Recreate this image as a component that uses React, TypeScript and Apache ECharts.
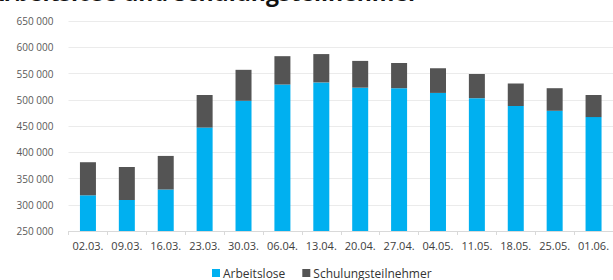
import React, { useEffect, useRef } from "react";
import * as echarts from "echarts";

const categories = ["02.03.", "09.03.", "16.03.", "23.03.", "30.03.", "06.04.", "13.04.", "20.04.", "27.04.", "04.05.", "11.05.", "18.05.", "25.05.", "01.06."];
const arbeitslose = [318000, 309000, 329000, 447000, 498000, 529000, 533000, 523000, 522000, 513000, 503000, 488000, 479000, 467000];
const schulung = [63000, 63000, 64000, 62000, 59000, 54000, 54000, 51000, 48000, 47000, 46000, 43000, 43000, 42000];
const titleText = "Arbeitslose und Schulungsteilnehmer";

const fmt = (v: number) => {
  const s = String(Math.round(v));
  return s.replace(/\B(?=(\d{3})+(?!\d))/g, " ");
};

export default function App() {
  const ref = useRef<HTMLDivElement>(null);
  useEffect(() => {
    if (!ref.current) return;
    const chart = echarts.init(ref.current, null, { renderer: "svg" });
    chart.setOption({
      animation: false,
      backgroundColor: "#ffffff",
      textStyle: { fontFamily: "Open Sans" },
      graphic: [
        {
          type: "text",
          left: -12,
          top: -20,
          style: {
            text: titleText,
            fontFamily: "Open Sans",
            fontWeight: "bold",
            fontSize: 23,
            fill: "#111111",
          },
        },
      ],
      legend: {
        left: 212,
        top: 267,
        padding: 0,
        itemWidth: 8,
        itemHeight: 8,
        itemGap: 17,
        icon: "rect",
        textStyle: { fontSize: 12, lineHeight: 12, color: "#333333", fontFamily: "Open Sans", padding: [0, 0, 0, -2] },
        data: ["Arbeitslose", "Schulungsteilnehmer"],
      },
      grid: { left: 68.5, right: -2.5, top: 21, bottom: 49 },
      xAxis: {
        type: "category",
        data: categories,
        axisLine: { lineStyle: { color: "#d9d9d9" } },
        axisTick: { show: true, length: 4, lineStyle: { color: "#d9d9d9" } },
        axisLabel: { fontSize: 11, color: "#404040", margin: 9, interval: 0 },
      },
      yAxis: {
        type: "value",
        min: 250000,
        max: 650000,
        interval: 50000,
        axisLine: { show: false },
        axisTick: { show: false },
        splitLine: { lineStyle: { color: "#ebebeb" } },
        axisLabel: { fontSize: 10, color: "#595959", margin: 15, formatter: fmt },
      },
      series: [
        {
          name: "Arbeitslose",
          type: "bar",
          stack: "total",
          barWidth: 16,
          itemStyle: { color: "#00b0f0" },
          data: arbeitslose,
        },
        {
          name: "Schulungsteilnehmer",
          type: "bar",
          stack: "total",
          barWidth: 16,
          itemStyle: { color: "#545454" },
          data: schulung,
        },
      ],
    });
    return () => chart.dispose();
  }, []);
  return (
    <div
      ref={ref}
      style={{ position: "absolute", left: 0, top: 0, width: 613, height: 280 }}
    />
  );
}
